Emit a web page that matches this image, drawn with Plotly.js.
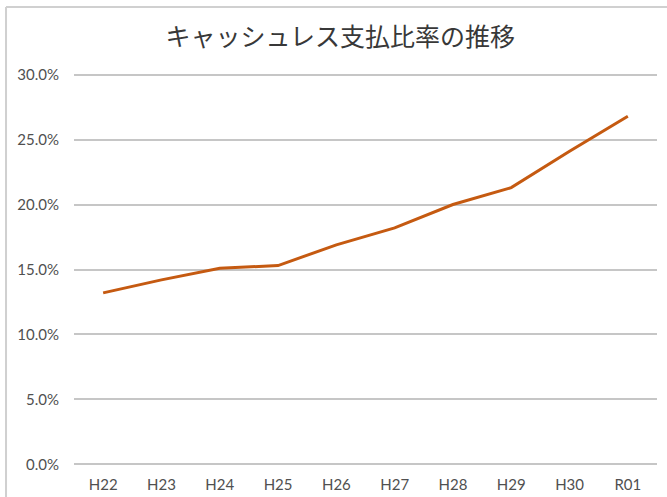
<!DOCTYPE html>
<html>
<head>
<meta charset="utf-8">
<script src="https://cdn.plot.ly/plotly-3.0.1.min.js"></script>
<style>html,body{margin:0;padding:0;background:#fff;}#chart{width:667px;height:497px;}</style>
</head>
<body>
<div id="chart"></div>
<script>
var categories = ["H22","H23","H24","H25","H26","H27","H28","H29","H30","R01"];
var ratioValues = [13.2, 14.2, 15.1, 15.3, 16.9, 18.2, 20.0, 21.3, 24.1, 26.8];
var yTickValues = [0, 5, 10, 15, 20, 25, 30];
var yTickLabels = ["0.0%","5.0%","10.0%","15.0%","20.0%","25.0%","30.0%"];
var titleText = "キャッシュレス支払比率の推移";

var trace = {
  x: categories,
  y: ratioValues,
  type: "scatter",
  mode: "lines",
  line: {color: "#C55A11", width: 3},
  hoverinfo: "skip"
};

var layout = {
  width: 667,
  height: 497,
  margin: {l: 74, r: 10, t: 72, b: 30},
  paper_bgcolor: "#ffffff",
  plot_bgcolor: "#ffffff",
  showlegend: false,
  title: {
    text: titleText,
    font: {family: "Noto Sans CJK JP", size: 25, color: "#383838"},
    x: 0.51, xanchor: "center",
    y: 0.925, yanchor: "middle"
  },
  xaxis: {
    type: "category",
    range: [-0.5, 9.5],
    showgrid: false,
    zeroline: false,
    showline: false,
    ticks: "",
    tickfont: {family: "Lato, 'Open Sans', sans-serif", size: 15, color: "#505050"},
    ticklabelstandoff: 7
  },
  yaxis: {
    range: [-0.2, 30.2],
    tickvals: yTickValues,
    ticktext: yTickLabels,
    showgrid: true,
    gridcolor: "#C6C6C6",
    gridwidth: 2,
    zeroline: false,
    showline: false,
    ticks: "",
    tickfont: {family: "Lato, 'Open Sans', sans-serif", size: 15, color: "#505050"},
    ticklabelstandoff: 14
  },
  shapes: [
    {type: "line", xref: "paper", yref: "paper", x0: -0.1166, x1: 1.05, y0: 1.1646, y1: 1.1646, line: {color: "#D0D0D0", width: 2}},
    {type: "line", xref: "paper", yref: "paper", x0: -0.1166, x1: -0.1166, y0: 1.1646, y1: -0.1, line: {color: "#D0D0D0", width: 2}}
  ]
};

Plotly.newPlot("chart", [trace], layout, {displayModeBar: false, staticPlot: true});
</script>
</body>
</html>
